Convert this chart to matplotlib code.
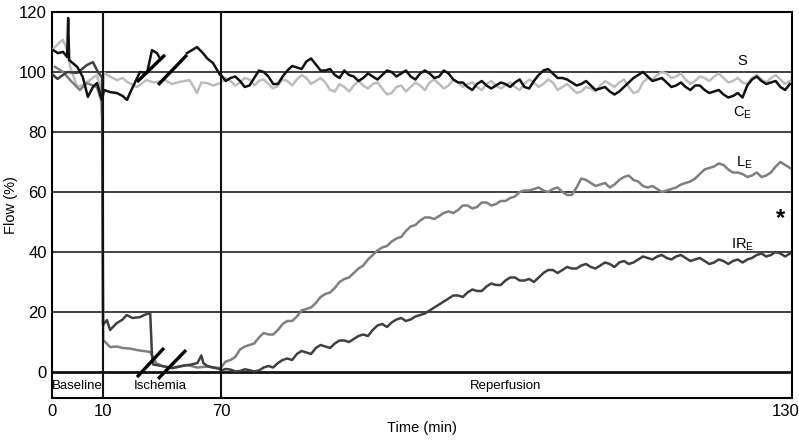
import numpy as np
import matplotlib
matplotlib.use("Agg")
import matplotlib.pyplot as plt

plt.rcParams['font.family'] = ['Liberation Sans', 'DejaVu Sans']
plt.rcParams['mathtext.fontset'] = 'custom'
plt.rcParams['mathtext.rm'] = 'Liberation Sans'

# broken time axis: baseline 0-10, ischemia 10-70 (squeezed), reperfusion 70-130
seg_t = [-100, 0, 10, 70, 130, 300]
seg_u = [-505, 0, 50.5, 168.5, 737.3, 2349]

def fwd(t):
    return np.interp(np.asarray(t, dtype=float), seg_t, seg_u)

def inv(u):
    return np.interp(np.asarray(u, dtype=float), seg_u, seg_t)

# baseline + ischemia readings
s_t0 = [0.1, 1.5, 2.1, 2.9, 3.5, 4.9, 6.0, 7.4, 8.8, 9.4, 9.8, 10.5, 13.6, 17.0, 20.0, 22.2, 27.3, 32.0,
        36.0, 41.5, 45.0, 49.0, 54.0, 57.8, 60.0, 62.9, 66.0, 69.5]
s_v0 = [107.7, 110.0, 110.7, 107.3, 101.7, 95.0, 95.7, 97.3, 99.0, 95.0, 85.0, 99.7, 98.5, 97.3, 98.0, 96.7,
        95.0, 97.3, 96.5, 97.3, 96.0, 96.7, 97.3, 93.0, 96.5, 96.3, 95.5, 96.3]

ce_t0 = [0.1, 1.1, 2.1, 2.9, 3.1, 3.3, 4.9, 6.0, 7.0, 8.0, 8.8, 9.8, 10.5, 13.6, 17.0, 20.0, 22.2, 23.7,
         28.8, 32.4, 34.9, 37.4, 39.0, 40.0, 52.7, 55.2, 57.8, 60.8, 63.0, 65.9, 69.5]
ce_v0 = [107.3, 106.3, 106.7, 105.0, 118.0, 104.0, 101.7, 98.3, 91.7, 95.0, 96.3, 90.7, 94.0, 93.3, 93.0,
         92.0, 90.7, 93.0, 100.0, 99.7, 107.3, 106.3, 104.5, np.nan, 106.3, 107.3, 108.3, 106.3, 104.5,
         103.0, 99.0]

le_t0 = [0.5, 2.1, 3.5, 5.4, 6.8, 8.8, 9.4, 9.9, 10.1, 13.6, 17.0, 20.0, 24.0, 27.3, 33.9, 35.4, 37.0,
         40.0, 45.6, 49.0, 52.7, 58.0, 63.0, 66.0, 69.5]
le_v0 = [101.7, 100.0, 97.3, 94.0, 96.3, 95.0, 91.7, 90.0, 10.7, 8.3, 8.5, 8.0, 7.8, 7.3, 6.7, 5.0, 3.0,
         2.0, 1.3, 1.8, 2.3, 1.5, 1.8, 1.5, 1.3]

ir_t0 = [0.1, 1.0, 2.9, 4.9, 6.8, 8.0, 9.0, 9.8, 10.0, 12.0, 13.6, 17.0, 20.0, 22.0, 25.0, 28.8, 31.0,
         34.0, 34.9, 35.5, 40.0, 45.0, 50.0, 55.0, 58.0, 60.0, 61.0, 63.0, 66.0, 69.5]
ir_v0 = [99.0, 97.7, 100.0, 99.7, 102.3, 103.3, 100.0, 98.3, 15.7, 17.3, 14.0, 16.3, 17.5, 19.0, 18.0,
         18.3, 19.0, 19.7, 5.7, 2.5, 2.0, 1.3, 2.0, 2.5, 3.0, 5.5, 3.0, 2.0, 1.5, 1.0]

# reperfusion: readings on the minute (70..130) and at the half minute (70.5..129.5)
t_rep = list(range(70, 131))
t_mid = [t + 0.5 for t in range(70, 130)]

s_rep = [96.5, 97.0, 96.5, 97.5, 97.0, 96.0, 95.5, 97.0, 97.5, 98.0, 97.0, 96.5, 93.5, 95.0, 95.5, 95.5,
         96.0, 94.5, 93.0, 95.5, 95.0, 95.5, 96.5, 96.0, 95.5, 96.5, 96.0, 95.0, 96.0, 95.5, 95.5, 95.0,
         96.0, 96.5, 96.0, 96.5, 95.0, 94.5, 93.5, 94.5, 95.5, 96.0, 96.5, 95.0, 93.5, 98.0, 99.0, 99.5,
         98.5, 97.5, 97.0, 98.0, 98.5, 98.0, 97.0, 96.5, 98.0, 97.5, 98.0, 97.5, 97.0]
s_mid = [98.0, 95.5, 98.0, 95.5, 97.5, 94.5, 97.5, 95.5, 99.0, 96.0,
         98.0, 94.0, 96.0, 93.5, 97.0, 94.5, 96.5, 92.5, 95.0, 93.5,
         96.5, 94.0, 97.5, 94.5, 97.5, 95.0, 96.5, 94.0, 97.0, 94.5,
         96.5, 94.0, 97.5, 95.0, 97.5, 94.0, 96.0, 93.0, 95.0, 93.5,
         97.0, 95.0, 97.5, 93.0, 96.5, 97.5, 100.0, 98.0, 99.5, 96.0,
         98.5, 97.0, 99.5, 96.5, 98.0, 96.0, 99.0, 96.5, 99.0, 96.0]

ce_rep = [99.0, 98.0, 97.0, 95.5, 100.5, 98.5, 96.0, 100.5, 101.5, 103.5, 102.5, 100.5, 99.0, 100.5, 98.5,
          98.0, 98.5, 99.0, 100.0, 99.5, 98.5, 99.5, 99.5, 98.5, 99.5, 96.5, 95.0, 96.0, 95.5, 95.5, 96.0,
          96.5, 95.0, 97.0, 100.5, 99.5, 98.0, 96.5, 96.0, 95.5, 94.5, 93.5, 93.5, 96.5, 99.0, 98.5, 97.5,
          96.5, 95.5, 95.0, 95.5, 94.0, 93.5, 92.5, 92.0, 91.5, 97.5, 97.0, 96.5, 95.0, 96.0]
ce_mid = [97.0, 98.5, 95.0, 98.0, 100.0, 96.0, 98.5, 102.0, 101.0, 104.5,
          100.5, 101.0, 98.0, 99.0, 97.0, 99.5, 97.5, 100.5, 98.5, 100.5,
          97.5, 100.5, 98.0, 100.5, 97.5, 96.5, 94.0, 97.0, 94.5, 96.5,
          95.0, 97.5, 94.5, 99.0, 101.0, 98.0, 97.5, 95.5, 97.0, 94.0,
          95.0, 92.5, 95.0, 98.0, 100.0, 97.0, 98.0, 95.0, 96.5, 94.0,
          95.5, 93.0, 94.0, 91.5, 93.0, 95.5, 98.5, 96.0, 97.0, 94.0]

le_rep = [1.5, 4.0, 7.5, 9.0, 11.5, 12.5, 14.0, 17.0, 18.5, 21.0, 23.0, 26.0, 28.0, 31.0, 33.0, 35.5,
          39.0, 41.5, 43.5, 45.0, 48.5, 50.5, 51.5, 52.0, 53.5, 54.0, 55.5, 55.0, 56.5, 56.0, 57.0, 58.5,
          60.5, 61.0, 60.5, 61.0, 60.0, 59.0, 64.5, 63.0, 62.5, 61.5, 64.0, 65.5, 63.5, 61.5, 61.0, 60.5,
          61.5, 63.0, 64.5, 67.5, 68.5, 69.0, 66.5, 66.0, 65.5, 65.0, 66.5, 70.0, 68.0]
le_mid = [3.5, 5.0, 8.5, 9.5, 13.0, 12.5, 16.0, 17.0, 20.5, 21.5,
          25.0, 26.5, 30.0, 31.5, 34.5, 37.5, 40.5, 42.0, 44.5, 47.0,
          49.0, 51.5, 51.0, 53.0, 53.0, 55.5, 54.5, 56.5, 55.5, 57.0,
          58.0, 60.0, 60.5, 61.5, 60.0, 61.5, 59.0, 61.5, 64.0, 62.0,
          63.0, 62.5, 65.0, 64.0, 62.0, 62.0, 60.0, 61.0, 62.5, 63.5,
          66.0, 68.0, 69.5, 67.5, 66.5, 65.0, 66.5, 65.5, 68.5, 69.0]

ir_rep = [0.5, 0.8, 0.3, 0.6, 0.5, 2.0, 3.0, 4.5, 6.0, 6.5, 8.0, 8.5, 9.5, 10.5, 11.0, 12.5, 14.0, 16.0,
          16.5, 18.0, 17.5, 19.0, 20.5, 22.5, 24.5, 25.5, 26.5, 27.0, 28.5, 29.0, 30.5, 31.5, 30.5, 30.0,
          33.0, 34.0, 34.0, 34.5, 35.5, 35.0, 35.5, 36.0, 36.5, 36.0, 37.5, 38.0, 38.5, 38.0, 38.5, 38.0,
          37.5, 37.0, 36.5, 37.0, 37.0, 36.5, 38.0, 39.5, 39.0, 39.5, 39.5]
ir_mid = [1.0, 0.2, 0.9, 0.2, 1.5, 1.5, 4.0, 4.0, 7.0, 6.0,
          9.0, 8.0, 10.5, 10.0, 12.0, 12.0, 15.5, 15.0, 17.5, 17.0,
          18.5, 19.5, 21.5, 23.5, 25.5, 25.0, 27.5, 27.0, 29.5, 29.0,
          31.5, 30.5, 31.0, 31.5, 34.0, 33.0, 35.0, 34.5, 36.0, 34.5,
          36.5, 35.0, 37.0, 36.5, 38.5, 37.5, 39.0, 37.5, 39.0, 37.0,
          38.0, 36.0, 37.5, 36.0, 37.5, 37.5, 39.0, 38.5, 40.0, 38.5]


def join(t0, v0, vr, vm):
    pts = list(zip(t0, v0)) + list(zip(t_rep, vr)) + list(zip(t_mid, vm))
    pts.sort(key=lambda p: p[0])
    return [p[0] for p in pts], [p[1] for p in pts]


series = [
    (s_t0, s_v0, s_rep, s_mid, '#bdbdbd'),
    (le_t0, le_v0, le_rep, le_mid, '#7f7f7f'),
    (ir_t0, ir_v0, ir_rep, ir_mid, '#404040'),
    (ce_t0, ce_v0, ce_rep, ce_mid, '#111111'),
]

fig = plt.figure(figsize=(7.99, 4.41), dpi=100)
ax = fig.add_axes([0.0657, 0.0975, 0.9253, 0.8753])
ax.set_xscale('function', functions=(fwd, inv))

for t0, v0, vr, vm, col in series:
    xs, ys = join(t0, v0, vr, vm)
    ax.plot(xs, ys, color=col, lw=1.8, zorder=3)

ax.set_xlim(0, 130.2)
ax.set_ylim(-8.67, 120)

for yv in [20, 40, 60, 80, 100]:
    ax.axhline(yv, color='#222222', lw=1.2, zorder=2)
ax.axhline(0, color='#111111', lw=2.0, zorder=2)
for xv in [10, 70]:
    ax.axvline(xv, color='#111111', lw=1.5, zorder=4)

# axis-break slashes in the ischemia part
breaks = [((27.3, 41.5), (96.7, 105.7)), ((38.0, 52.7), (95.7, 105.7)),
          ((27.3, 41.0), (-1.7, 8.0)), ((38.0, 52.2), (-2.3, 7.3))]
for bx, by in breaks:
    ax.plot(bx, by, color='black', lw=2.4, solid_capstyle='butt', zorder=5)

ax.set_xticks([0, 10, 70, 129.5])
ax.set_xticklabels(['0', '10', '70', '130'])
ax.set_yticks([0, 20, 40, 60, 80, 100, 120])
ax.tick_params(length=0, labelsize=12, pad=4)
for sp in ax.spines.values():
    sp.set_linewidth(1.5)

ax.set_xlabel('Time (min)', fontsize=10.5, labelpad=2)
ax.set_ylabel('Flow (%)', fontsize=10.5)
ax.yaxis.set_label_coords(-0.046, 0.5)

for lab, xv in [('Baseline', 5.0), ('Ischemia', 39.0), ('Reperfusion', 100.0)]:
    ax.text(xv, -4.6, lab, ha='center', va='center', fontsize=9.5)

ax.text(125.0, 103.5, 'S', ha='center', va='center', fontsize=10.5)
ax.text(125.0, 86.5, r'C$_{\mathrm{E}}$', ha='center', va='center', fontsize=10.5)
ax.text(125.2, 69.8, r'L$_{\mathrm{E}}$', ha='center', va='center', fontsize=10.5)
ax.text(125.0, 42.5, r'IR$_{\mathrm{E}}$', ha='center', va='center', fontsize=10.5)
ax.text(129.0, 51.0, '*', ha='center', va='center', fontsize=17, fontweight='bold')

fig.savefig('out.png', dpi=100)
